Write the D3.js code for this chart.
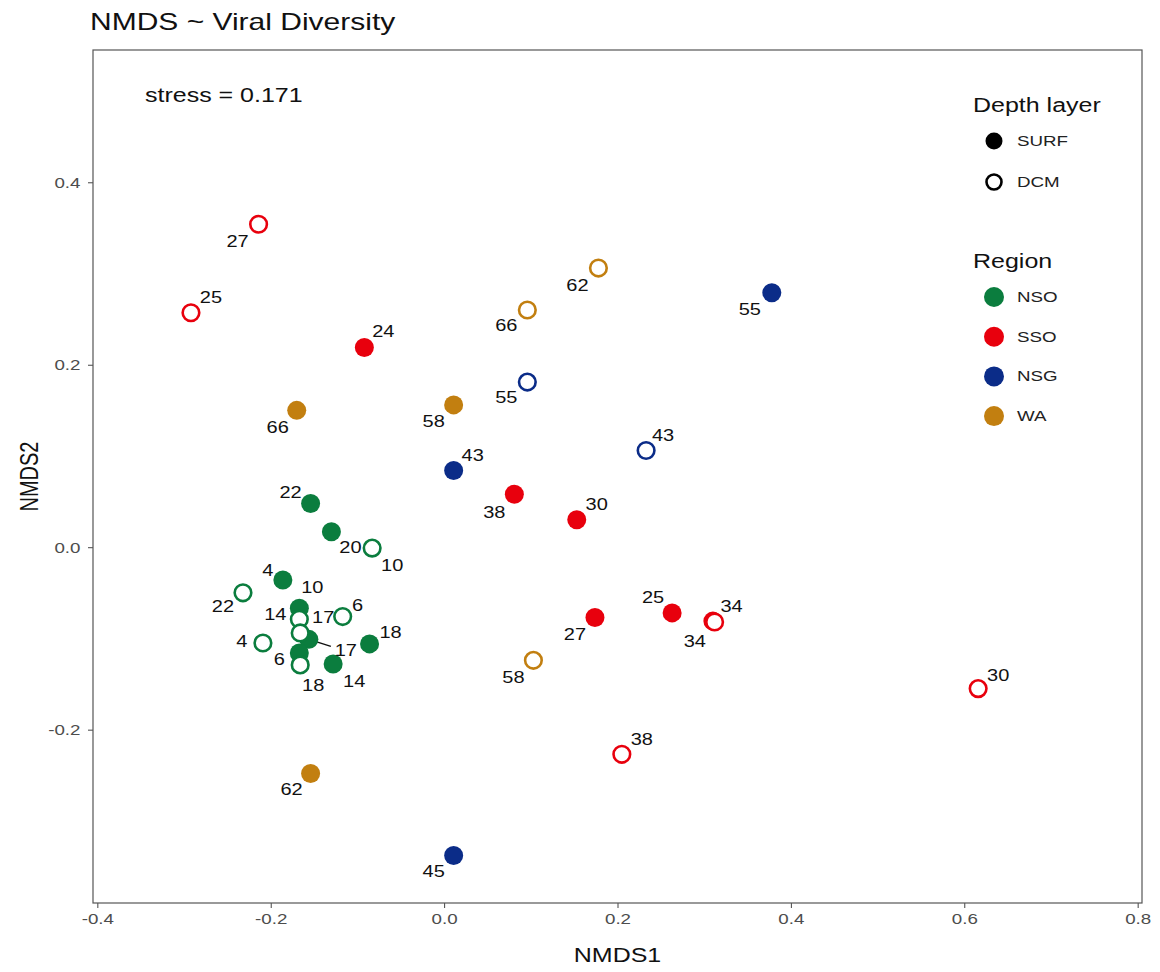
<!DOCTYPE html>
<html>
<head>
<meta charset="utf-8">
<script src="https://cdn.jsdelivr.net/npm/d3@7"></script>
<style>
  body { margin: 0; background: #fff; }
  svg text { font-family: 'Liberation Sans', Arial, Helvetica, sans-serif; }
</style>
</head>
<body>
<div id="chart"></div>
<script>
// NMDS ordination of viral communities, one point per sample

const REGIONS = ['NSO', 'SSO', 'NSG', 'WA'];
const REGION_COLORS = ['#0b7d3e', '#e8000d', '#0b2c88', '#c27f10'];
const DEPTHS = ['SURF', 'DCM'];
const X_TICKS = [-0.4, -0.2, 0.0, 0.2, 0.4, 0.6, 0.8];
const Y_TICKS = [-0.2, 0.0, 0.2, 0.4];
const STRESS = 0.171;

const station = [27, 25, 24, 66, 66, 62, 55, 55, 58, 43, 43, 38, 30, 27, 25, 34, 34, 58, 30, 38, 62, 45,
                 22, 20, 10, 4, 22, 10, 14, 17, 17, 6, 4, 18, 6, 18, 14];
const region = ['SSO', 'SSO', 'SSO', 'WA', 'WA', 'WA', 'NSG', 'NSG', 'WA', 'NSG', 'NSG', 'SSO', 'SSO', 'SSO', 'SSO', 'SSO', 'SSO', 'WA', 'SSO', 'SSO', 'WA', 'NSG',
                'NSO', 'NSO', 'NSO', 'NSO', 'NSO', 'NSO', 'NSO', 'NSO', 'NSO', 'NSO', 'NSO', 'NSO', 'NSO', 'NSO', 'NSO'];
const depth = ['DCM', 'DCM', 'SURF', 'SURF', 'DCM', 'DCM', 'SURF', 'DCM', 'SURF', 'SURF', 'DCM', 'SURF', 'SURF', 'SURF', 'SURF', 'SURF', 'DCM', 'DCM', 'DCM', 'DCM', 'SURF', 'SURF',
               'SURF', 'SURF', 'DCM', 'SURF', 'DCM', 'SURF', 'DCM', 'SURF', 'DCM', 'DCM', 'DCM', 'SURF', 'SURF', 'DCM', 'SURF'];
const nmds1 = [-0.214, -0.292, -0.092, -0.170, 0.096, 0.178, 0.378, 0.096, 0.011, 0.011, 0.233, 0.081, 0.153, 0.174, 0.263, 0.310, 0.312, 0.103, 0.616, 0.205, -0.154, 0.011,
               -0.154, -0.130, -0.083, -0.186, -0.232, -0.167, -0.167, -0.156, -0.166, -0.117, -0.209, -0.086, -0.167, -0.166, -0.128];
const nmds2 = [0.354, 0.257, 0.219, 0.150, 0.260, 0.306, 0.279, 0.181, 0.156, 0.084, 0.106, 0.058, 0.030, -0.077, -0.072, -0.081, -0.082, -0.124, -0.155, -0.227, -0.248, -0.338,
               0.048, 0.017, -0.001, -0.036, -0.050, -0.067, -0.079, -0.101, -0.094, -0.076, -0.105, -0.106, -0.116, -0.129, -0.128];

// repelled label offsets (px), same order as the samples
const labelNudge = [[-21, 17], [20, -15], [19, -16], [-19, 17], [-21, 16], [-21, 18], [-22, 17], [-21, 16], [-20, 17], [19, -15], [17, -15], [-20, 18], [20, -15], [-20, 17], [-19, -15], [-18, 21], [17, -15], [-20, 17], [20, -13], [20, -15], [-19, 16], [-20, 16],
                    [-20, -11], [19, 16], [20, 18], [-15, -9], [-20, 14], [13, -21], [-24, -5], [37, 11], [23, -15], [15, -11], [-21, -1], [21, -11], [-20, 7], [13, 21], [21, 18]];

const W = 1160, H = 972;
const margin = { top: 50, right: 18, bottom: 69, left: 93 };
const iw = W - margin.left - margin.right;
const ih = H - margin.top - margin.bottom;
const SX = 1.25; // the source image is stretched sideways, text included

const samples = station.map((s, i) => ({
  station: s, region: region[i], depth: depth[i], x: nmds1[i], y: nmds2[i],
  dx: labelNudge[i][0], dy: labelNudge[i][1]
}));

const color = d3.scaleOrdinal().domain(REGIONS).range(REGION_COLORS);
const x = d3.scaleLinear().domain([-0.405, 0.805]).range([0, iw]);
const y = d3.scaleLinear().domain([-0.39, 0.545]).range([ih, 0]);

const svg = d3.select('#chart').append('svg').attr('width', W).attr('height', H);

function label(parent, px, py, txt, size, opts = {}) {
  const t = parent.append('text')
    .attr('transform', `translate(${px},${py})${opts.rotate ? ' rotate(-90) scale(1,' + SX + ')' : ' scale(' + SX + ',1)'}`)
    .attr('font-size', size).attr('fill', opts.fill || '#111')
    .attr('text-anchor', opts.anchor || 'start')
    .text(txt);
  if (opts.central) t.attr('dominant-baseline', 'central');
  return t;
}

label(svg, 90, 30, 'NMDS ~ Viral Diversity', 24);

const g = svg.append('g').attr('transform', `translate(${margin.left},${margin.top})`);

// axes
const fmt = d => d3.format('.1f')(d).replace('−', '-');
const xAxis = g.append('g').attr('transform', `translate(0,${ih})`)
  .call(d3.axisBottom(x).tickValues(X_TICKS).tickFormat(fmt).tickSizeOuter(0).tickSize(5).tickPadding(5));
const yAxis = g.append('g')
  .call(d3.axisLeft(y).tickValues(Y_TICKS).tickFormat(fmt).tickSizeOuter(0).tickSize(5).tickPadding(5));
[xAxis, yAxis].forEach(a => {
  a.select('.domain').remove();
  a.selectAll('.tick line').attr('stroke', '#444');
  a.selectAll('.tick text').attr('fill', '#4d4d4d').attr('font-size', 15)
    .attr('transform', `scale(${SX},1)`)
    .attr('font-family', "'Liberation Sans', Arial, sans-serif");
});

g.append('rect')
  .attr('width', iw).attr('height', ih)
  .attr('fill', 'none').attr('stroke', '#555').attr('stroke-width', 1.2);

label(svg, margin.left + iw / 2, 962, 'NMDS1', 20, { anchor: 'middle' });
label(svg, 38, margin.top + ih / 2, 'NMDS2', 20, { anchor: 'middle', rotate: true });

label(g, 52, 52, 'stress = ' + STRESS, 20);

// segment for the one label that got pushed away
g.append('g').selectAll('line')
  .data(samples.filter(d => Math.hypot(d.dx, d.dy) > 30))
  .join('line')
  .attr('x1', d => x(d.x)).attr('y1', d => y(d.y))
  .attr('x2', d => x(d.x) + d.dx - 15).attr('y2', d => y(d.y) + d.dy - 4)
  .attr('stroke', '#111').attr('stroke-width', 1.5);

// points: filled surface samples first, open DCM rings on top
const pts = g.append('g');
pts.selectAll('circle.surf')
  .data(samples.filter(d => d.depth === 'SURF'))
  .join('circle').attr('class', 'surf')
  .attr('cx', d => x(d.x)).attr('cy', d => y(d.y)).attr('r', 9.5)
  .attr('fill', d => color(d.region));
pts.selectAll('circle.dcm')
  .data(samples.filter(d => d.depth === 'DCM'))
  .join('circle').attr('class', 'dcm')
  .attr('cx', d => x(d.x)).attr('cy', d => y(d.y)).attr('r', 8.3)
  .attr('fill', '#fff').attr('stroke', d => color(d.region)).attr('stroke-width', 2.6);

const labs = g.append('g');
samples.forEach(d => {
  label(labs, x(d.x) + d.dx, y(d.y) + d.dy, d.station, 16, { anchor: 'middle', central: true });
});

// legend
const leg = svg.append('g').attr('transform', 'translate(973,0)');
label(leg, 0, 112, 'Depth layer', 20);
DEPTHS.forEach((dp, i) => {
  const cy = 141 + i * 41;
  leg.append('circle').attr('cx', 21).attr('cy', cy).attr('r', dp === 'SURF' ? 8.5 : 7.5)
    .attr('fill', dp === 'SURF' ? '#000' : '#fff')
    .attr('stroke', dp === 'SURF' ? 'none' : '#000').attr('stroke-width', 2.6);
  label(leg, 44, cy, dp, 15, { central: true, fill: '#222' });
});
label(leg, 0, 268, 'Region', 20);
REGIONS.forEach((r, i) => {
  const cy = 297 + i * 39.7;
  leg.append('circle').attr('cx', 21).attr('cy', cy).attr('r', 10).attr('fill', color(r));
  label(leg, 44, cy, r, 15, { central: true, fill: '#222' });
});
</script>
</body>
</html>
